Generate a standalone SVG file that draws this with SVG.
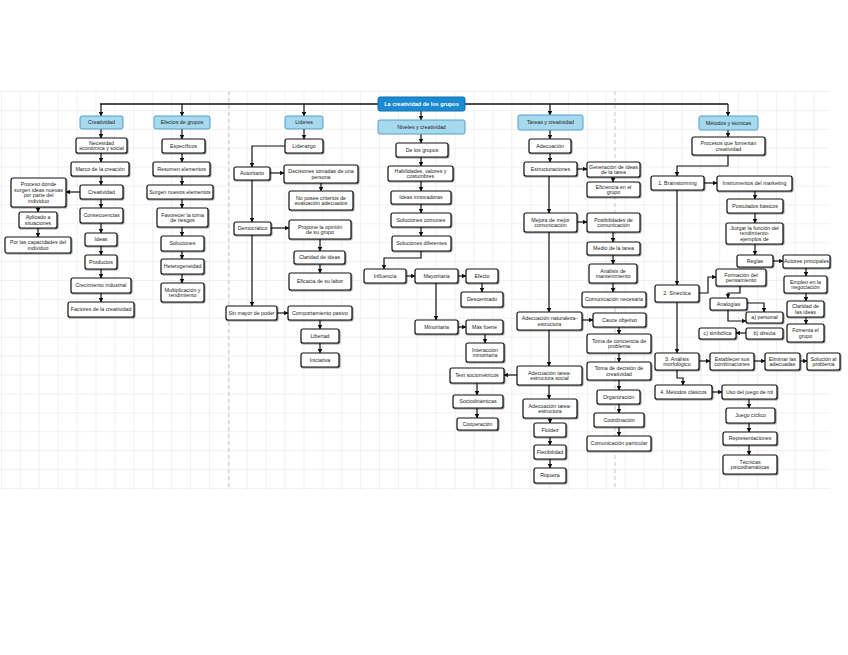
<svg xmlns="http://www.w3.org/2000/svg" width="848" height="655" viewBox="0 0 848 655">
<defs>
<pattern id="grid" x="1" y="91" width="18.9" height="18.9" patternUnits="userSpaceOnUse">
<path d="M0,0 H18.9 M0,0 V18.9" fill="none" stroke="#dcdcdc" stroke-width="0.8"/>
</pattern>
<filter id="sh" x="-10%" y="-20%" width="130%" height="160%">
<feDropShadow dx="0.8" dy="0.9" stdDeviation="0.5" flood-color="#000" flood-opacity="0.45"/>
</filter>
<marker id="a" viewBox="0 0 10 10" refX="9" refY="5" markerWidth="4.5" markerHeight="4.5" markerUnits="userSpaceOnUse" orient="auto">
<path d="M0,0 L10,5 L0,10 z" fill="#111"/>
</marker>
<style>
.n rect{fill:#fff;stroke:#111;stroke-width:1.2;filter:url(#sh)}
.h rect{fill:#a6d8ee;stroke:#4e9fcf;stroke-width:1}
.m rect{fill:#1c8ad0;stroke:#1070b0;stroke-width:1}
text{font-family:"Liberation Sans",Arial,sans-serif;font-size:5.3px;text-anchor:middle;fill:#222}
.m text{fill:#fff;font-weight:bold;font-size:5.5px}
#edges path{fill:none;stroke:#111;stroke-width:1.2;marker-end:url(#a)}
#edges path.nm{marker-end:none;stroke-width:1.4}
.pb{stroke:#b8b8b8;stroke-width:0.8;stroke-dasharray:4 3}
</style>
</defs>
<rect x="0" y="0" width="848" height="655" fill="#fff"/>
<rect x="0" y="91" width="830" height="399" fill="url(#grid)"/>
<path class="pb" d="M229,91 V490 M615,91 V490"/>

<g id="edges">
<path class="nm" d="M100,104 H728"/>
<path d="M101,104 V116"/><path d="M182,104 V116"/><path d="M304,104 V116"/><path d="M550,104 V115"/><path d="M728,104 V116"/>
<path d="M421,111 V120"/>
<path d="M101,129 V138"/><path d="M101,153 V162"/><path d="M101,176 V185"/><path d="M101,199 V208"/><path d="M101,223 V233"/><path d="M101,246 V255"/><path d="M101,269 V278"/><path d="M101,293 V302"/>
<path d="M80,192 H66"/><path d="M38,207 V212"/><path d="M38,228 V237"/>
<path d="M182,129 V139"/><path d="M182,153 V162"/><path d="M182,176 V185"/><path d="M182,199 V208"/><path d="M182,227 V236"/><path d="M182,251 V259"/><path d="M182,274 V283"/>
<path d="M304,129 V139"/><path d="M285,146 H252 V167"/><path d="M270,173 H284"/><path d="M321,183 V191"/><path d="M252,180 V222"/><path d="M271,228 H289"/><path d="M320,239 V251"/><path d="M320,264 V273"/><path d="M252,235 V306"/><path d="M277,313 H288"/><path d="M320,320 V329"/><path d="M320,343 V353"/>
<path d="M421,134 V143"/><path d="M421,157 V166"/><path d="M421,181 V191"/><path d="M421,204 V213"/><path d="M421,227 V236"/>
<path d="M421,251 V258 H384 V269"/><path d="M406,276 H415"/><path d="M458,276 H466"/><path d="M482,283 V292"/><path d="M436,283 V320"/><path d="M458,327 H466"/><path d="M485,334 V343"/>
<path d="M517,375 H504"/><path d="M477,383 V395"/><path d="M477,408 V418"/>
<path d="M550,130 V139"/><path d="M550,153 V162"/><path d="M577,169 H587"/><path d="M613,177 V182"/><path d="M549,176 V213"/><path d="M577,222 H587"/><path d="M613,232 V242"/><path d="M613,255 V264"/><path d="M613,283 V292"/>
<path d="M549,232 V312"/><path d="M582,320 H593"/><path d="M619,327 V334"/><path d="M619,353 V362"/><path d="M619,380 V390"/><path d="M619,404 V413"/><path d="M619,427 V436"/>
<path d="M549,330 V366"/><path d="M549,385 V399"/><path d="M550,418 V423"/><path d="M550,437 V445"/><path d="M550,459 V468"/>
<path d="M728,130 V137"/><path d="M728,155 V166 H677 V176"/><path d="M704,183 H717"/><path d="M755,191 V199"/><path d="M755,213 V223"/><path d="M755,244 V255"/><path d="M773,261 H783"/><path d="M806,268 V276"/><path d="M806,293 V301"/><path d="M806,317 V324"/>
<path d="M677,190 V285"/><path d="M699,293 H708 V277 H716"/><path d="M740,286 V293 H728 V298"/><path d="M747,303 H764 V312"/><path d="M728,310 V321 H746"/><path d="M746,333 H736"/>
<path d="M677,302 V353"/><path d="M699,361 H710"/><path d="M754,361 H765"/><path d="M800,361 H807"/>
<path d="M677,370 V378 H683 V385"/><path d="M712,392 H722"/><path d="M749,399 V408"/><path d="M749,423 V432"/><path d="M749,445 V455"/>
</g>

<g id="m0" class="m"><rect x="378" y="97" width="87" height="14" rx="2"/><text x="421.5" y="106">La creatividad de los grupos</text></g>
<g id="h1" class="h"><rect x="80" y="116" width="43" height="13" rx="2"/><text x="101.5" y="124.4">Creatividad</text></g>
<g id="h2" class="h"><rect x="154" y="116" width="56" height="13" rx="2"/><text x="182" y="124.4">Efectos de grupos</text></g>
<g id="h3" class="h"><rect x="285" y="116" width="38" height="13" rx="2"/><text x="304" y="124.4">Líderes</text></g>
<g id="h4" class="h"><rect x="378" y="120" width="87" height="14" rx="2"/><text x="421.5" y="128.9">Niveles y creatividad</text></g>
<g id="h5" class="h"><rect x="518" y="115" width="65" height="15" rx="2"/><text x="550.5" y="124.4">Tareas y creatividad</text></g>
<g id="h6" class="h"><rect x="699" y="116" width="59" height="14" rx="2"/><text x="728.5" y="124.9">Métodos y técnicas</text></g>

<g id="c1" class="n"><rect x="76" y="138" width="51" height="15" rx="2"/><text x="101.5" y="144.5">Necesidad<tspan x="101.5" dy="5.8">económica y social</tspan></text></g>
<g id="c2" class="n"><rect x="71" y="162" width="58" height="14" rx="2"/><text x="100" y="170.9">Marco de la creación</text></g>
<g id="c3" class="n"><rect x="80" y="185" width="43" height="14" rx="2"/><text x="101.5" y="193.9">Creatividad</text></g>
<g id="c4" class="n"><rect x="11" y="178" width="55" height="29" rx="2"/><text x="38.5" y="185.7">Proceso donde<tspan x="38.5" dy="5.8">surgen ideas nuevas</tspan><tspan x="38.5" dy="5.8">por parte del</tspan><tspan x="38.5" dy="5.8">individuo</tspan></text></g>
<g id="c5" class="n"><rect x="19" y="212" width="38" height="16" rx="2"/><text x="38" y="219">Aplicado a<tspan x="38" dy="5.8">situaciones</tspan></text></g>
<g id="c6" class="n"><rect x="5" y="237" width="66" height="16" rx="2"/><text x="38" y="244">Por las capacidades del<tspan x="38" dy="5.8">individuo</tspan></text></g>
<g id="c7" class="n"><rect x="80" y="208" width="43" height="15" rx="2"/><text x="101.5" y="217.4">Consecuencias</text></g>
<g id="c8" class="n"><rect x="85" y="233" width="32" height="13" rx="2"/><text x="101" y="241.4">Ideas</text></g>
<g id="c9" class="n"><rect x="85" y="255" width="32" height="14" rx="2"/><text x="101" y="263.9">Productos</text></g>
<g id="c10" class="n"><rect x="71" y="278" width="60" height="15" rx="2"/><text x="101" y="287.4">Crecimiento industrial</text></g>
<g id="c11" class="n"><rect x="68" y="302" width="66" height="15" rx="2"/><text x="101" y="311.4">Factores de la creatividad</text></g>

<g id="e1" class="n"><rect x="162" y="139" width="43" height="14" rx="2"/><text x="183.5" y="147.9">Específicos</text></g>
<g id="e2" class="n"><rect x="153" y="162" width="57" height="14" rx="2"/><text x="181.5" y="170.9">Resumen elementos</text></g>
<g id="e3" class="n"><rect x="147" y="185" width="66" height="14" rx="2"/><text x="180" y="193.9">Surgen nuevos elementos</text></g>
<g id="e4" class="n"><rect x="157" y="208" width="51" height="19" rx="2"/><text x="182.5" y="216.5">Favorecer la toma<tspan x="182.5" dy="5.8">de riesgos</tspan></text></g>
<g id="e5" class="n"><rect x="161" y="236" width="43" height="15" rx="2"/><text x="182.5" y="245.4">Soluciones</text></g>
<g id="e6" class="n"><rect x="161" y="259" width="43" height="15" rx="2"/><text x="182.5" y="268.4">Heterogeneidad</text></g>
<g id="e7" class="n"><rect x="161" y="283" width="43" height="19" rx="2"/><text x="182.5" y="291.5">Multiplicación y<tspan x="182.5" dy="5.8">rendimiento</tspan></text></g>

<g id="l1" class="n"><rect x="285" y="139" width="38" height="14" rx="2"/><text x="304" y="147.9">Liderazgo</text></g>
<g id="l2" class="n"><rect x="234" y="167" width="36" height="13" rx="2"/><text x="252" y="175.4">Autoritario</text></g>
<g id="l3" class="n"><rect x="284" y="165" width="74" height="18" rx="2"/><text x="321" y="173">Decisiones tomadas de una<tspan x="321" dy="5.8">persona</tspan></text></g>
<g id="l4" class="n"><rect x="289" y="191" width="64" height="19" rx="2"/><text x="321" y="199.5">No posee criterios de<tspan x="321" dy="5.8">evaluación adecuados</tspan></text></g>
<g id="l5" class="n"><rect x="234" y="222" width="37" height="13" rx="2"/><text x="252.5" y="230.4">Democrático</text></g>
<g id="l6" class="n"><rect x="289" y="220" width="62" height="19" rx="2"/><text x="320" y="228.5">Propone la opinión<tspan x="320" dy="5.8">de su grupo</tspan></text></g>
<g id="l7" class="n"><rect x="294" y="251" width="51" height="13" rx="2"/><text x="319.5" y="259.4">Claridad de ideas</text></g>
<g id="l8" class="n"><rect x="289" y="273" width="62" height="17" rx="2"/><text x="320" y="283.4">Eficacia de su labor</text></g>
<g id="l9" class="n"><rect x="226" y="306" width="51" height="14" rx="2"/><text x="251.5" y="314.9">Sin mayor de poder</text></g>
<g id="l10" class="n"><rect x="288" y="306" width="64" height="14" rx="2"/><text x="320" y="314.9">Comportamiento pasivo</text></g>
<g id="l11" class="n"><rect x="301" y="329" width="38" height="14" rx="2"/><text x="320" y="337.9">Libertad</text></g>
<g id="l12" class="n"><rect x="301" y="353" width="38" height="14" rx="2"/><text x="320" y="361.9">Iniciativa</text></g>

<g id="n1" class="n"><rect x="396" y="143" width="52" height="14" rx="2"/><text x="422" y="151.9">De los grupos</text></g>
<g id="n2" class="n"><rect x="388" y="166" width="65" height="15" rx="2"/><text x="420.5" y="172.5">Habilidades, valores y<tspan x="420.5" dy="5.8">costumbres</tspan></text></g>
<g id="n3" class="n"><rect x="391" y="191" width="60" height="13" rx="2"/><text x="421" y="199.4">Ideas innovadoras</text></g>
<g id="n4" class="n"><rect x="391" y="213" width="60" height="14" rx="2"/><text x="421" y="221.9">Soluciones comunes</text></g>
<g id="n5" class="n"><rect x="392" y="236" width="59" height="15" rx="2"/><text x="421.5" y="245.4">Soluciones diferentes</text></g>
<g id="n6" class="n"><rect x="364" y="269" width="42" height="14" rx="2"/><text x="385" y="277.9">Influencia</text></g>
<g id="n7" class="n"><rect x="415" y="269" width="43" height="14" rx="2"/><text x="436.5" y="277.9">Mayoritaria</text></g>
<g id="n8" class="n"><rect x="466" y="269" width="32" height="14" rx="2"/><text x="482" y="277.9">Efecto</text></g>
<g id="n9" class="n"><rect x="461" y="292" width="42" height="15" rx="2"/><text x="482" y="301.4">Descentrado</text></g>
<g id="n10" class="n"><rect x="415" y="320" width="43" height="14" rx="2"/><text x="436.5" y="328.9">Minoritaria</text></g>
<g id="n11" class="n"><rect x="466" y="320" width="37" height="14" rx="2"/><text x="484.5" y="328.9">Más fuerte</text></g>
<g id="n12" class="n"><rect x="466" y="343" width="38" height="19" rx="2"/><text x="485" y="351.5">Interacción<tspan x="485" dy="5.8">minoritaria</tspan></text></g>
<g id="n13" class="n"><rect x="450" y="368" width="54" height="15" rx="2"/><text x="477" y="377.4">Test sociométricos</text></g>
<g id="n14" class="n"><rect x="453" y="395" width="50" height="13" rx="2"/><text x="478" y="403.4">Sociodinámicas</text></g>
<g id="n15" class="n"><rect x="457" y="418" width="41" height="12" rx="2"/><text x="477.5" y="425.9">Cooperación</text></g>

<g id="t1" class="n"><rect x="529" y="139" width="42" height="14" rx="2"/><text x="550" y="147.9">Adecuación</text></g>
<g id="t2" class="n"><rect x="524" y="162" width="53" height="14" rx="2"/><text x="550.5" y="170.9">Estructuraciones</text></g>
<g id="t3" class="n"><rect x="587" y="162" width="53" height="15" rx="2"/><text x="613.5" y="168.5">Generación de ideas<tspan x="613.5" dy="5.8">de la tarea</tspan></text></g>
<g id="t4" class="n"><rect x="587" y="182" width="53" height="15" rx="2"/><text x="613.5" y="188.5">Eficiencia en el<tspan x="613.5" dy="5.8">grupo</tspan></text></g>
<g id="t5" class="n"><rect x="524" y="213" width="53" height="19" rx="2"/><text x="550.5" y="221.5">Mejora de mejor<tspan x="550.5" dy="5.8">comunicación</tspan></text></g>
<g id="t6" class="n"><rect x="587" y="213" width="53" height="19" rx="2"/><text x="613.5" y="221.5">Posibilidades de<tspan x="613.5" dy="5.8">comunicación</tspan></text></g>
<g id="t7" class="n"><rect x="587" y="242" width="53" height="13" rx="2"/><text x="613.5" y="250.4">Medio de la tarea</text></g>
<g id="t8" class="n"><rect x="589" y="264" width="48" height="19" rx="2"/><text x="613" y="272.5">Análisis de<tspan x="613" dy="5.8">mantenimiento</tspan></text></g>
<g id="t9" class="n"><rect x="582" y="292" width="64" height="15" rx="2"/><text x="614" y="301.4">Comunicación necesaria</text></g>
<g id="t10" class="n"><rect x="517" y="312" width="65" height="18" rx="2"/><text x="549.5" y="320">Adecuación naturaleza-<tspan x="549.5" dy="5.8">estructura</tspan></text></g>
<g id="t11" class="n"><rect x="593" y="313" width="53" height="14" rx="2"/><text x="619.5" y="321.9">Cauce objetivo</text></g>
<g id="t12" class="n"><rect x="587" y="334" width="64" height="19" rx="2"/><text x="619" y="342.5">Toma de conciencia de<tspan x="619" dy="5.8">problema</tspan></text></g>
<g id="t13" class="n"><rect x="587" y="362" width="64" height="18" rx="2"/><text x="619" y="370">Toma de decisión de<tspan x="619" dy="5.8">creatividad</tspan></text></g>
<g id="t14" class="n"><rect x="597" y="390" width="43" height="14" rx="2"/><text x="618.5" y="398.9">Organización</text></g>
<g id="t15" class="n"><rect x="594" y="413" width="50" height="14" rx="2"/><text x="619" y="421.9">Coordinación</text></g>
<g id="t16" class="n"><rect x="587" y="436" width="64" height="15" rx="2"/><text x="619" y="445.4">Comunicación particular</text></g>
<g id="t17" class="n"><rect x="517" y="366" width="65" height="19" rx="2"/><text x="549.5" y="374.5">Adecuación tarea-<tspan x="549.5" dy="5.8">estructura social</tspan></text></g>
<g id="t18" class="n"><rect x="523" y="399" width="54" height="19" rx="2"/><text x="550" y="407.5">Adecuación tarea-<tspan x="550" dy="5.8">estructura</tspan></text></g>
<g id="t19" class="n"><rect x="534" y="423" width="32" height="14" rx="2"/><text x="550" y="431.9">Fluidez</text></g>
<g id="t20" class="n"><rect x="534" y="445" width="32" height="14" rx="2"/><text x="550" y="453.9">Flexibilidad</text></g>
<g id="t21" class="n"><rect x="534" y="468" width="32" height="15" rx="2"/><text x="550" y="477.4">Riqueza</text></g>

<g id="m1" class="n"><rect x="692" y="137" width="73" height="18" rx="2"/><text x="728.5" y="145">Procesos que fomentan<tspan x="728.5" dy="5.8">creatividad</tspan></text></g>
<g id="m2" class="n"><rect x="651" y="176" width="53" height="14" rx="2"/><text x="677.5" y="184.9">1. Brainstorming</text></g>
<g id="m3" class="n"><rect x="717" y="176" width="75" height="15" rx="2"/><text x="754.5" y="185.4">Instrumentos del marketing</text></g>
<g id="m4" class="n"><rect x="727" y="199" width="56" height="14" rx="2"/><text x="755" y="207.9">Postulados básicos</text></g>
<g id="m5" class="n"><rect x="726" y="223" width="57" height="21" rx="2"/><text x="754.5" y="229.6">Juzgar la función del<tspan x="754.5" dy="5.8">rendimiento-</tspan><tspan x="754.5" dy="5.8">ejemplos de</tspan></text></g>
<g id="m6" class="n"><rect x="737" y="255" width="36" height="12" rx="2"/><text x="755" y="262.9">Reglas</text></g>
<g id="m7" class="n"><rect x="783" y="255" width="47" height="13" rx="2"/><text x="806.5" y="263.4">Autores principales</text></g>
<g id="m8" class="n"><rect x="655" y="285" width="44" height="17" rx="2"/><text x="677" y="295.4">2. Sinéctica</text></g>
<g id="m9" class="n"><rect x="716" y="269" width="50" height="17" rx="2"/><text x="741" y="276.5">Formación del<tspan x="741" dy="5.8">pensamiento</tspan></text></g>
<g id="m10" class="n"><rect x="784" y="276" width="43" height="17" rx="2"/><text x="805.5" y="283.5">Empleo en la<tspan x="805.5" dy="5.8">negociación</tspan></text></g>
<g id="m11" class="n"><rect x="710" y="298" width="37" height="12" rx="2"/><text x="728.5" y="305.9">Analogías</text></g>
<g id="m12" class="n"><rect x="746" y="312" width="37" height="11" rx="2"/><text x="764.5" y="319.4">a) personal</text></g>
<g id="m13" class="n"><rect x="746" y="328" width="37" height="11" rx="2"/><text x="764.5" y="335.4">b) directa</text></g>
<g id="m14" class="n"><rect x="699" y="328" width="37" height="11" rx="2"/><text x="717.5" y="335.4">c) simbólica</text></g>
<g id="m15" class="n"><rect x="787" y="301" width="37" height="16" rx="2"/><text x="805.5" y="308">Claridad de<tspan x="805.5" dy="5.8">las ideas</tspan></text></g>
<g id="m16" class="n"><rect x="787" y="324" width="37" height="18" rx="2"/><text x="805.5" y="332">Fomenta el<tspan x="805.5" dy="5.8">grupo</tspan></text></g>
<g id="m17" class="n"><rect x="655" y="353" width="44" height="17" rx="2"/><text x="677" y="360.5">3. Análisis<tspan x="677" dy="5.8">morfológico</tspan></text></g>
<g id="m18" class="n"><rect x="710" y="353" width="44" height="17" rx="2"/><text x="732" y="360.5">Establecer sus<tspan x="732" dy="5.8">combinaciones</tspan></text></g>
<g id="m19" class="n"><rect x="765" y="353" width="35" height="17" rx="2"/><text x="782.5" y="360.5">Eliminar las<tspan x="782.5" dy="5.8">adecuadas</tspan></text></g>
<g id="m20" class="n"><rect x="807" y="353" width="33" height="17" rx="2"/><text x="823.5" y="360.5">Solución al<tspan x="823.5" dy="5.8">problema</tspan></text></g>
<g id="m21" class="n"><rect x="655" y="385" width="57" height="14" rx="2"/><text x="683.5" y="393.9">4. Métodos clásicos</text></g>
<g id="m22" class="n"><rect x="722" y="385" width="55" height="14" rx="2"/><text x="749.5" y="393.9">Uso del juego de rol</text></g>
<g id="m23" class="n"><rect x="726" y="408" width="49" height="15" rx="2"/><text x="750.5" y="417.4">Juego cíclico</text></g>
<g id="m24" class="n"><rect x="723" y="432" width="54" height="13" rx="2"/><text x="750" y="440.4">Representaciones</text></g>
<g id="m25" class="n"><rect x="723" y="455" width="54" height="19" rx="2"/><text x="750" y="463.5">Técnicas<tspan x="750" dy="5.8">psicodramáticas</tspan></text></g>
</svg>
